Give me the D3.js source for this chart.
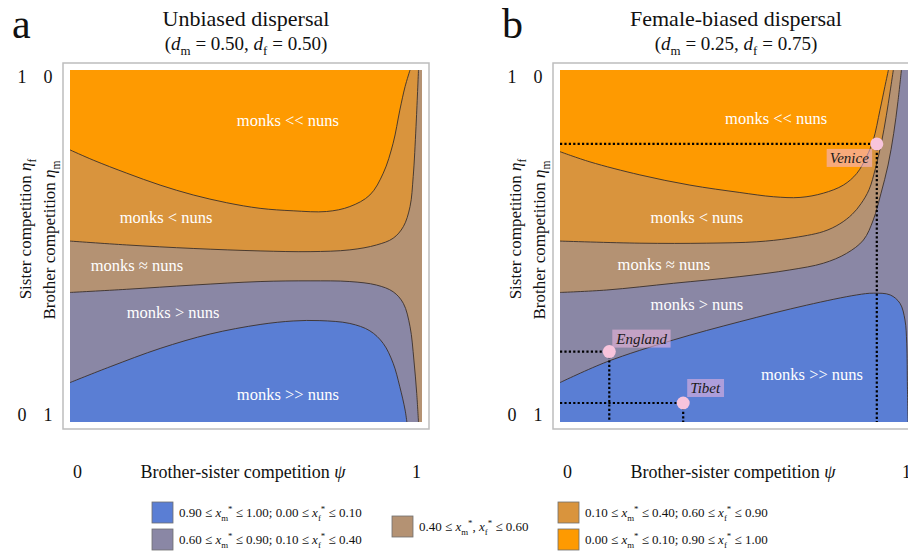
<!DOCTYPE html>
<html>
<head>
<meta charset="utf-8">
<script src="https://cdn.jsdelivr.net/npm/d3@7"></script>
<style>
  body { margin: 0; background: #fff; }
  svg { display: block; font-family: "Liberation Serif", "Times New Roman", serif; }
</style>
</head>
<body>
<div id="chart"></div>
<script>
// ---------------- data ----------------
const panelLetters = ['a', 'b'];
const panelTitles = ['Unbiased dispersal', 'Female-biased dispersal'];
const dmValues = [0.50, 0.25];
const dfValues = [0.50, 0.75];
const axisTicks = [0, 1];

// regions, from monks >> nuns to monks << nuns
const regionNames = ['monks >> nuns', 'monks > nuns', 'monks \u2248 nuns', 'monks < nuns', 'monks << nuns'];
const regionColors = ['#5a7ed4', '#8a87a5', '#b49273', '#d9943d', '#fe9a01'];
// [xm lo, xm hi, xf lo, xf hi] per region
const legendRanges = [
  [0.90, 1.00, 0.00, 0.10],
  [0.60, 0.90, 0.10, 0.40],
  [0.40, 0.60, 0.40, 0.60],
  [0.10, 0.40, 0.60, 0.90],
  [0.00, 0.10, 0.90, 1.00]
];

// region boundaries as [psi, eta_m] (eta_m = 0 at top, eta_f = 1 - eta_m)
// panel a
const aEdge1 = [[0,0.227],[0.066,0.256],[0.161,0.293],[0.256,0.327],[0.350,0.355],[0.445,0.377],[0.540,0.393],[0.634,0.400],[0.729,0.402],[0.795,0.388],[0.852,0.355],[0.890,0.293],[0.918,0.208],[0.937,0.114],[0.952,0.047],[0.966,0]];
const aEdge2 = [[0,0.486],[0.161,0.497],[0.350,0.507],[0.540,0.514],[0.682,0.516],[0.795,0.511],[0.871,0.497],[0.918,0.478],[0.947,0.445],[0.966,0.388],[0.975,0.303],[0.983,0.161],[0.990,0]];
const aEdge3 = [[0,0.632],[0.161,0.623],[0.350,0.611],[0.540,0.601],[0.682,0.599],[0.795,0.601],[0.871,0.611],[0.918,0.630],[0.947,0.663],[0.966,0.729],[0.977,0.824],[0.985,0.919],[0.990,1]];
const aEdge4 = [[0,0.888],[0.114,0.843],[0.256,0.791],[0.398,0.750],[0.540,0.723],[0.634,0.713],[0.710,0.712],[0.795,0.720],[0.852,0.741],[0.890,0.777],[0.918,0.833],[0.937,0.900],[0.952,0.966],[0.957,1]];
// panel b
const bEdge1 = [[0,0.232],[0.085,0.261],[0.227,0.298],[0.369,0.327],[0.511,0.348],[0.606,0.360],[0.682,0.362],[0.748,0.350],[0.805,0.327],[0.843,0.294],[0.871,0.246],[0.890,0.199],[0.909,0.114],[0.923,0.047],[0.933,0]];
const bEdge2 = [[0,0.486],[0.227,0.492],[0.417,0.492],[0.559,0.488],[0.653,0.478],[0.748,0.459],[0.795,0.437],[0.830,0.410],[0.855,0.380],[0.878,0.340],[0.896,0.280],[0.913,0.207],[0.927,0.130],[0.938,0.060],[0.947,0]];
const bEdge3 = [[0,0.632],[0.133,0.625],[0.322,0.606],[0.511,0.587],[0.653,0.568],[0.748,0.549],[0.814,0.521],[0.862,0.483],[0.890,0.426],[0.912,0.350],[0.932,0.270],[0.948,0.180],[0.960,0.090],[0.970,0]];
const bEdge4 = [[0,0.888],[0.133,0.829],[0.322,0.767],[0.511,0.715],[0.701,0.668],[0.843,0.639],[0.890,0.634],[0.938,0.639],[0.966,0.663],[0.980,0.710],[0.985,0.776],[0.987,0.900],[0.989,1]];

// where the region names sit, [psi, eta_m], same order as regionNames
const aLabelAt = [[0.619,0.920],[0.293,0.688],[0.190,0.554],[0.273,0.418],[0.619,0.142]];
const bLabelAt = [[0.716,0.864],[0.389,0.665],[0.295,0.551],[0.389,0.418],[0.614,0.136]];

// historical cases in panel b
const siteNames = ['Venice', 'England', 'Tibet'];
const sitePsi = [0.90, 0.14, 0.35];
const siteEtaM = [0.21, 0.80, 0.946];

//------------------------ SVG ------------------------//
const width = 908;
const height = 553;
const size = 352;
const plotTop = 70;
const lefts = [70, 560];
const f2 = d3.format('.2f');

const svg = d3.select('#chart').append('svg')
    .attr('width', width)
    .attr('height', height);

// text with italic / sub / sup pieces
function addRich(text, parts, fs) {
  let off = 0;
  parts.forEach(([s, k]) => {
    const t = text.append('tspan').text(s);
    let target = 0;
    if (k === 'sub') { target = fs * 0.28; t.attr('font-size', fs * 0.68); }
    if (k === 'sup') { target = -fs * 0.36; t.attr('font-size', fs * 0.68); }
    if (k === 'i') t.attr('font-style', 'italic');
    if (target !== off) { t.attr('dy', target - off); off = target; }
  });
}

const panelEdges = [[aEdge1, aEdge2, aEdge3, aEdge4], [bEdge1, bEdge2, bEdge3, bEdge4]];
const labelAt = [aLabelAt, bLabelAt];

panelLetters.forEach((letter, p) => {
  const x0 = lefts[p];
  const x = d3.scaleLinear().domain([0, 1]).range([x0, x0 + size]);
  const y = d3.scaleLinear().domain([0, 1]).range([plotTop, plotTop + size]);
  // tick labels sit a little inside the plot edges
  const xt = d3.scaleLinear().domain([0, 1]).range([x0 + 7, x0 + size - 6]);
  const ytm = d3.scaleLinear().domain([0, 1]).range([plotTop + 7, plotTop + size - 7]);
  const ytf = d3.scaleLinear().domain([1, 0]).range([plotTop + 7, plotTop + size - 7]);

  const g = svg.append('g');

  // frame
  g.append('rect')
    .attr('x', x0 - 7).attr('y', plotTop - 7)
    .attr('width', size + 14).attr('height', size + 14)
    .attr('fill', 'none').attr('stroke', '#bdbdbd').attr('stroke-width', 1.5);

  g.append('clipPath').attr('id', 'clip' + p)
    .append('rect').attr('x', x0).attr('y', plotTop).attr('width', size).attr('height', size);

  const plot = g.append('g').attr('clip-path', `url(#clip${p})`);

  const line = d3.line()
    .x(d => x(d[0])).y(d => y(d[1]))
    .curve(d3.curveCatmullRom.alpha(0.5));
  const fillPath = (pts, corner) => line(pts) + `L${x(corner[0])},${y(corner[1])}Z`;

  const [e1, e2, e3, e4] = panelEdges[p];
  // panel a: brown fills the gap on the right; panel b: grey does
  const bg = p === 0 ? regionColors[2] : regionColors[1];
  const fills = p === 0
    ? [[e2, [0, 0], 3], [e1, [0, 0], 4], [e3, [0, 1], 1], [e4, [0, 1], 0]]
    : [[e3, [0, 0], 2], [e2, [0, 0], 3], [e1, [0, 0], 4], [e4, [0, 1], 0]];

  plot.append('rect')
    .attr('x', x(0)).attr('y', y(0))
    .attr('width', x(1) - x(0)).attr('height', y(1) - y(0))
    .attr('fill', bg);

  plot.selectAll('path.region')
    .data(fills)
    .join('path')
    .attr('class', 'region')
    .attr('d', d => fillPath(d[0], d[1]))
    .attr('fill', d => regionColors[d[2]]);

  plot.selectAll('path.edge')
    .data(panelEdges[p])
    .join('path')
    .attr('class', 'edge')
    .attr('d', d => line(d))
    .attr('fill', 'none')
    .attr('stroke', '#3b302a')
    .attr('stroke-width', 0.9);

  // region names
  plot.selectAll('text.rname')
    .data(regionNames)
    .join('text')
    .attr('class', 'rname')
    .attr('x', (d, i) => x(labelAt[p][i][0]))
    .attr('y', (d, i) => y(labelAt[p][i][1]))
    .attr('dy', '0.35em')
    .attr('text-anchor', 'middle')
    .attr('font-size', 16.5)
    .attr('fill', '#fff')
    .text(d => d);

  // historical cases
  if (p === 1) {
    const sites = siteNames.map((n, i) => ({ name: n, psi: sitePsi[i], eta: siteEtaM[i] }));
    const dots = plot.append('g')
      .attr('fill', 'none').attr('stroke', '#000')
      .attr('stroke-width', 2.2).attr('stroke-dasharray', '2.2,2.2');
    sites.forEach(s => {
      dots.append('line')
        .attr('x1', x(0)).attr('x2', x(s.psi))
        .attr('y1', y(s.eta)).attr('y2', y(s.eta));
      dots.append('line')
        .attr('x1', x(s.psi)).attr('x2', x(s.psi))
        .attr('y1', y(s.eta)).attr('y2', y(1));
    });
    sites.forEach(s => {
      const left = s.name === 'Venice';
      const lg = plot.append('g');
      const box = lg.append('rect');
      const t = lg.append('text')
        .attr('x', left ? x(s.psi) - 8 : x(s.psi) + 7)
        .attr('y', left ? y(s.eta) + 19 : y(s.eta) - (s.name === 'Tibet' ? 10 : 8))
        .attr('text-anchor', left ? 'end' : 'start')
        .attr('font-size', 15)
        .attr('font-style', 'italic')
        .attr('fill', '#1a1a1a')
        .text(s.name);
      const bb = t.node().getBBox();
      box.attr('x', bb.x - 3).attr('y', bb.y - 1)
        .attr('width', bb.width + 6).attr('height', bb.height + 2)
        .attr('fill', '#f2b8e0').attr('fill-opacity', 0.55);
      plot.append('circle')
        .attr('cx', x(s.psi)).attr('cy', y(s.eta))
        .attr('r', 6.5).attr('fill', '#f8c4dc');
    });
  }

  // axes
  const xAxis = g.append('g')
    .attr('transform', 'translate(0,465)')
    .call(d3.axisBottom(xt).tickValues(axisTicks).tickSize(0).tickPadding(0).tickFormat(d3.format('d')));
  const yAxisF = g.append('g')
    .attr('transform', `translate(${x0 - 48},0)`)
    .call(d3.axisLeft(ytf).tickValues(axisTicks).tickSize(0).tickPadding(0).tickFormat(d3.format('d')));
  const yAxisM = g.append('g')
    .attr('transform', `translate(${x0 - 22},0)`)
    .call(d3.axisLeft(ytm).tickValues(axisTicks).tickSize(0).tickPadding(0).tickFormat(d3.format('d')));
  [xAxis, yAxisF, yAxisM].forEach(a => {
    a.select('.domain').remove();
    a.selectAll('text')
      .attr('text-anchor', 'middle')
      .attr('font-family', '"Liberation Serif", serif')
      .attr('font-size', 18)
      .attr('fill', '#111');
  });

  // axis titles
  const xt1 = g.append('text')
    .attr('x', x(0.5) - 3).attr('y', 478)
    .attr('text-anchor', 'middle').attr('font-size', 18).attr('fill', '#111');
  addRich(xt1, [['Brother-sister competition ', ''], ['\u03c8', 'i']], 18);

  const ys = g.append('text')
    .attr('transform', `translate(${x0 - 39},229) rotate(-90)`)
    .attr('text-anchor', 'middle').attr('font-size', 17).attr('fill', '#111');
  addRich(ys, [['Sister competition ', ''], ['\u03b7', 'i'], ['f', 'sub']], 17);

  const yb = g.append('text')
    .attr('transform', `translate(${x0 - 15},240) rotate(-90)`)
    .attr('text-anchor', 'middle').attr('font-size', 17).attr('fill', '#111');
  addRich(yb, [['Brother competition ', ''], ['\u03b7', 'i'], ['m', 'sub']], 17);

  // titles
  g.append('text')
    .attr('x', x0 - 58).attr('y', 38)
    .attr('font-size', 42).attr('fill', '#111')
    .text(letter);
  g.append('text')
    .attr('x', x(0.5)).attr('y', 26)
    .attr('text-anchor', 'middle').attr('font-size', 22).attr('fill', '#111')
    .text(panelTitles[p]);
  const sub = g.append('text')
    .attr('x', x(0.5)).attr('y', 50)
    .attr('text-anchor', 'middle').attr('font-size', 19).attr('fill', '#111');
  addRich(sub, [['(', ''], ['d', 'i'], ['m', 'sub'], [' = ' + f2(dmValues[p]) + ', ', ''],
    ['d', 'i'], ['f', 'sub'], [' = ' + f2(dfValues[p]) + ')', '']], 19);
});

//------------------------ legend ------------------------//
const legendSlots = [[152, 502], [152, 529], [392, 516], [558, 502], [558, 529]];
const legend = svg.append('g');
legendRanges.forEach((r, i) => {
  const [lx, ly] = legendSlots[i];
  legend.append('rect')
    .attr('x', lx).attr('y', ly).attr('width', 21).attr('height', 21)
    .attr('fill', regionColors[i]).attr('stroke', '#6f6f6f').attr('stroke-width', 0.8);
  const t = legend.append('text')
    .attr('x', lx + 27).attr('y', ly + 15)
    .attr('font-size', 13).attr('fill', '#111');
  const parts = i === 2
    ? [[f2(r[0]) + ' \u2264 ', ''], ['x', 'i'], ['m', 'sub'], ['*', 'sup'], [', ', ''],
       ['x', 'i'], ['f', 'sub'], ['*', 'sup'], [' \u2264 ' + f2(r[1]), '']]
    : [[f2(r[0]) + ' \u2264 ', ''], ['x', 'i'], ['m', 'sub'], ['*', 'sup'],
       [' \u2264 ' + f2(r[1]) + '; ' + f2(r[2]) + ' \u2264 ', ''],
       ['x', 'i'], ['f', 'sub'], ['*', 'sup'], [' \u2264 ' + f2(r[3]), '']];
  addRich(t, parts, 13);
});
</script>
</body>
</html>
